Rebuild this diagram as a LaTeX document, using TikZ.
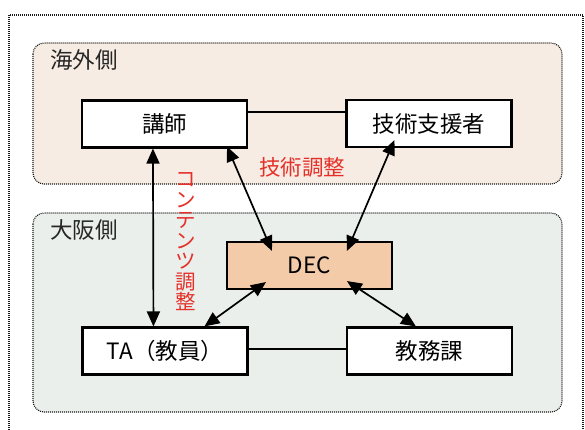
\documentclass[tikz,border=0pt]{standalone}
\usepackage{fontspec}
\setmainfont{Noto Sans CJK JP}
\usetikzlibrary{arrows.meta,calc}
\definecolor{topfill}{HTML}{F6ECE3}
\definecolor{botfill}{HTML}{EAEFEB}
\definecolor{decfill}{HTML}{F3CBA9}
\definecolor{redtxt}{HTML}{E5302A}
\begin{document}
\begin{tikzpicture}[x=1pt,y=-1pt,
  dotline/.style={draw=black!90,line width=1.1pt,dash pattern=on 1pt off 1pt},
  group/.style={dotline,rounded corners=11pt},
  box/.style={draw=black,line width=2.1pt,fill=white,minimum width=165pt,minimum height=47pt,inner sep=0pt,font=\fontsize{22.5}{24}\selectfont},
  grouplabel/.style={font=\fontsize{22.5}{24}\selectfont,text=black!85,inner sep=0pt},
  redlabel/.style={font=\fontsize{21.5}{23}\selectfont,text=redtxt,inner sep=0pt},
  link/.style={line width=2pt},
  biarrow/.style={line width=1.7pt,{Triangle[length=15pt,width=13pt]}-{Triangle[length=15pt,width=13pt]}}]
\useasboundingbox (0,0) rectangle (585,430);
\fill[white] (0,0) rectangle (585,430);
% outer frame
\begin{scope}
\clip (0,0) rectangle (585,430);
\draw[dotline] (9,15) rectangle (583,445);
\end{scope}
% groups
\filldraw[group,fill=topfill] (33,43) rectangle (562,184);
\filldraw[group,fill=botfill] (33,213) rectangle (562,412);
\node[grouplabel] (lab1) at (84,60) {海外側};
\node[grouplabel] (lab2) at (84,230) {大阪側};
% boxes
\node[box] (kousi) at (164.5,124) {講師};
\node[box] (gijutsu) at (429,123.5) {技術支援者};
\node[box,fill=decfill] (dec) at (309.5,265.5) {DEC};
\node[box] (ta) at (165,351) {TA（教員）};
\node[box] (kyomu) at (429.5,351) {教務課};
% plain links
\draw[link] ($(kousi.north east)+(0,13)$) -- ($(gijutsu.north west)+(0,13.5)$);
\draw[link] ($(ta.north east)+(0,23)$) -- ($(kyomu.north west)+(0,23)$);
% arrows
\draw[biarrow] ($(kousi.south west)+(72,0)$) -- ($(ta.north west)+(72,0)$);
\draw[biarrow] ($(kousi.south east)+(-21,-2)$) -- ($(dec.north west)+(46,10)$);
\draw[biarrow] ($(gijutsu.south west)+(49,-8)$) -- ($(dec.north west)+(121,10)$);
\draw[biarrow] ($(dec.south west)+(40,-8)$) -- ($(ta.north west)+(123,0)$);
\draw[biarrow] ($(dec.south west)+(121,-9)$) -- ($(kyomu.north west)+(70,0)$);
% red labels
\node[redlabel] (tech) at (302,167) {技術調整};
\node[redlabel,align=center,font=\fontsize{20.5}{20.5}\selectfont] (content) at (186,242) {コ\\ン\\テ\\ン\\ツ\\調\\整};
\end{tikzpicture}
\end{document}
